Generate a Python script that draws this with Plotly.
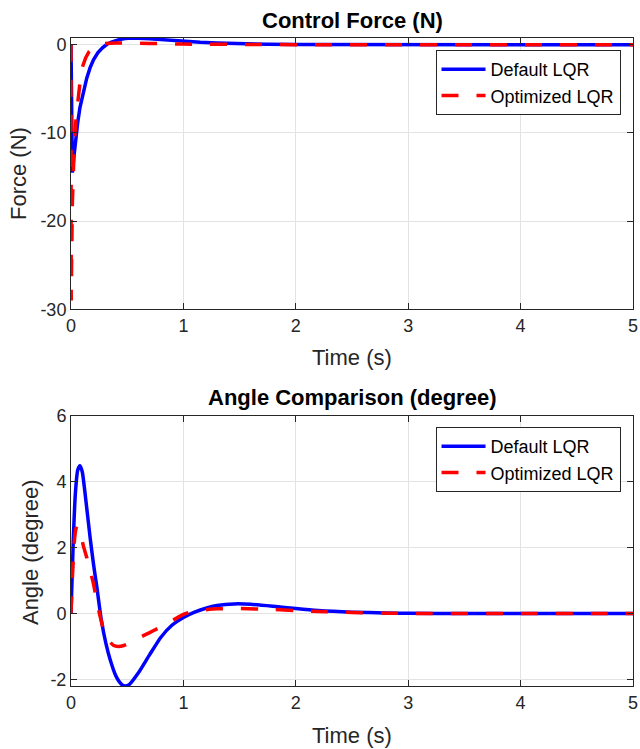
import plotly.graph_objects as go

# ---- data ----
force_default_t = [0, 0.004, 0.012, 0.025, 0.04, 0.06, 0.08, 0.11, 0.14, 0.17, 0.2, 0.24, 0.28, 0.32,
                   0.36, 0.42, 0.48, 0.55, 0.62, 0.7, 0.8, 0.9, 1.0, 1.15, 1.3, 1.5, 1.75, 2.0, 2.5,
                   3.0, 4.0, 5.0]
force_default = [0, -9, -14.5, -12.8, -10.8, -8.8, -7.1, -5.3, -3.8, -2.6, -1.7, -0.9, -0.35, 0.05,
                 0.3, 0.55, 0.7, 0.76, 0.74, 0.68, 0.58, 0.48, 0.4, 0.28, 0.2, 0.11, 0.05, 0.02, 0.005,
                 0, 0, 0]

force_opt_t = [0, 0.002, 0.006, 0.012, 0.02, 0.03, 0.045, 0.06, 0.08, 0.1, 0.13, 0.16, 0.2, 0.25,
               0.3, 0.4, 0.5, 0.7, 1.0, 1.3, 1.6, 2.0, 3.0, 5.0]
force_opt = [0, -29, -24, -18, -14, -11, -8.3, -6.3, -4.3, -2.6, -1.5, -0.8, -0.3, 0,
             0.12, 0.2, 0.2, 0.15, 0.07, 0.03, 0.01, 0, 0, 0]

angle_default_t = [0, 0.02, 0.04, 0.06, 0.08, 0.1, 0.13, 0.17, 0.2, 0.23, 0.27, 0.31, 0.35, 0.4,
                   0.45, 0.48, 0.52, 0.6, 0.7, 0.8, 0.9, 1.0, 1.1, 1.2, 1.3, 1.45, 1.6, 1.8, 2.0,
                   2.2, 2.5, 2.8, 3.0, 3.5, 4.0, 5.0]
angle_default = [0, 2.2, 3.7, 4.35, 4.48, 4.3, 3.5, 2.3, 1.5, 0.8, -0.2, -0.9, -1.42, -1.9,
                 -2.15, -2.2, -2.15, -1.8, -1.25, -0.72, -0.35, -0.12, 0.04, 0.16, 0.24, 0.29, 0.28,
                 0.22, 0.15, 0.09, 0.04, 0.015, 0.005, 0, 0, 0]

angle_opt_t = [0, 0.015, 0.03, 0.045, 0.056, 0.07, 0.09, 0.11, 0.14, 0.17, 0.2, 0.23, 0.26, 0.29,
               0.33, 0.38, 0.42, 0.47, 0.55, 0.63, 0.7, 0.78, 0.85, 0.92, 1.0, 1.08, 1.15, 1.3,
               1.5, 1.8, 2.0, 2.2, 2.5, 2.8, 3.0, 4.0, 5.0]
angle_opt = [0, 1.3, 2.2, 2.58, 2.65, 2.6, 2.35, 2.05, 1.7, 1.3, 0.9, 0.35, -0.1, -0.5,
             -0.8, -0.97, -1.0, -0.97, -0.85, -0.7, -0.58, -0.44, -0.31, -0.18, -0.03, 0.06, 0.1,
             0.14, 0.15, 0.12, 0.09, 0.06, 0.03, 0.01, 0, 0, 0]

series_names = ["Default LQR", "Optimized LQR"]
x_ticks = [0, 1, 2, 3, 4, 5]
x_tick_labels = ["0", "1", "2", "3", "4", "5"]
force_ticks = [-30, -20, -10, 0]
force_tick_labels = ["-30", "-20", "-10", "0"]
angle_ticks = [-2, 0, 2, 4, 6]
angle_tick_labels = ["-2", "0", "2", "4", "6"]

FONT = "Liberation Sans, Arial, Helvetica, sans-serif"
BLUE = "#0000ff"
RED = "#ff0000"
AX = "#262626"
GRID = "#e3e3e3"

fig = go.Figure()

fig.add_trace(go.Scatter(x=force_default_t, y=force_default, mode="lines", name=series_names[0],
                         line=dict(color=BLUE, width=3.5), xaxis="x", yaxis="y", legend="legend"))
fig.add_trace(go.Scatter(x=force_opt_t, y=force_opt, mode="lines", name=series_names[1],
                         line=dict(color=RED, width=3.5, dash="17px,18px"),
                         xaxis="x", yaxis="y", legend="legend"))
fig.add_trace(go.Scatter(x=angle_default_t, y=angle_default, mode="lines", name=series_names[0],
                         line=dict(color=BLUE, width=3.5, shape="spline", smoothing=0.6),
                         xaxis="x2", yaxis="y2", legend="legend2"))
fig.add_trace(go.Scatter(x=angle_opt_t, y=angle_opt, mode="lines", name=series_names[1],
                         line=dict(color=RED, width=3.5, dash="17px,18px", shape="spline", smoothing=0.6),
                         xaxis="x2", yaxis="y2", legend="legend2"))

axis_common = dict(showline=True, linecolor=AX, linewidth=1, mirror="ticks",
                   ticks="inside", ticklen=6, tickcolor=AX, tickwidth=1,
                   showgrid=True, gridcolor=GRID, gridwidth=1, zeroline=False,
                   tickfont=dict(family=FONT, size=18, color=AX))

L, R, T, B = 71, 6.5, 38, 63
H = 749 - T - B

def py(px):
    return (749 - B - px) / H

def px_x(px):
    return (px - L) / (640 - L - R)

legend_style = dict(xanchor="right", yanchor="top", bgcolor="white", bordercolor=AX, borderwidth=1,
                    font=dict(family=FONT, size=18, color="black"), itemwidth=44, tracegroupgap=0)

fig.update_layout(
    width=640, height=749,
    margin=dict(l=L, r=R, t=T, b=B, autoexpand=False),
    paper_bgcolor="white", plot_bgcolor="white",
    font=dict(family=FONT, color=AX),
    xaxis=dict(domain=[0, 1], range=[0, 5], tickvals=x_ticks, ticktext=x_tick_labels,
               anchor="y", **axis_common),
    yaxis=dict(domain=[py(309.3), 1], range=[-30, 0.76], tickvals=force_ticks,
               ticktext=force_tick_labels, anchor="x", **axis_common),
    xaxis2=dict(domain=[0, 1], range=[0, 5], tickvals=x_ticks, ticktext=x_tick_labels,
                anchor="y2", **axis_common),
    yaxis2=dict(domain=[0, py(415.7)], range=[-2.2, 6], tickvals=angle_ticks,
                ticktext=angle_tick_labels, anchor="x2", **axis_common),
    legend=dict(x=px_x(621), y=py(50), **legend_style),
    legend2=dict(x=px_x(621), y=py(427), **legend_style),
    showlegend=True,
)

ann = []
ann.append(dict(text="<b>Control Force (N)</b>", x=0.5, y=py(21), xref="paper", yref="paper",
                xanchor="center", yanchor="middle", showarrow=False,
                font=dict(family=FONT, size=22, color="black")))
ann.append(dict(text="<b>Angle Comparison (degree)</b>", x=0.5, y=py(397), xref="paper", yref="paper",
                xanchor="center", yanchor="middle", showarrow=False,
                font=dict(family=FONT, size=22, color="black")))
ann.append(dict(text="Time (s)", x=0.5, y=py(357), xref="paper", yref="paper",
                xanchor="center", yanchor="middle", showarrow=False,
                font=dict(family=FONT, size=22, color=AX)))
ann.append(dict(text="Time (s)", x=0.5, y=py(735), xref="paper", yref="paper",
                xanchor="center", yanchor="middle", showarrow=False,
                font=dict(family=FONT, size=22, color=AX)))
ann.append(dict(text="Force (N)", x=px_x(18), y=py(174), xref="paper", yref="paper",
                xanchor="center", yanchor="middle", showarrow=False, textangle=-90,
                font=dict(family=FONT, size=22, color=AX)))
ann.append(dict(text="Angle (degree)", x=px_x(30), y=py(552), xref="paper", yref="paper",
                xanchor="center", yanchor="middle", showarrow=False, textangle=-90,
                font=dict(family=FONT, size=22, color=AX)))
fig.update_layout(annotations=ann)

fig.write_html("out.html", config={"displayModeBar": False},
               post_script="document.body.style.margin='0';document.body.style.padding='0';")
